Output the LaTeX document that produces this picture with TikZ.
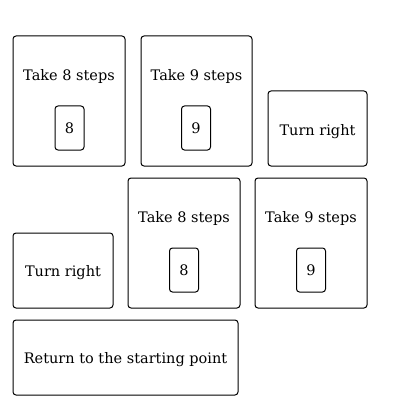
\documentclass[tikz,border=0pt]{standalone}
\usepackage{fontspec}
\setmainfont{DejaVu Serif}
\begin{document}
\begin{tikzpicture}[x=1pt,y=-1pt,
  card/.style={draw,rounded corners=3pt,line width=1pt,inner sep=0pt},
  numbox/.style={draw,rounded corners=3pt,line width=1pt,inner sep=0pt,minimum width=29pt,minimum height=44pt,font=\fontsize{14.5}{17}\selectfont},
  lbl/.style={inner sep=0pt,font=\fontsize{14.5}{17}\selectfont},
]
\useasboundingbox (0,0) rectangle (400,409);
% outer cards
\node[card,minimum width=112pt,minimum height=130pt] (b1) at (69,101) {};
\node[card,minimum width=111pt,minimum height=130pt] (b2) at (196.5,101) {};
\node[card,minimum width=99pt,minimum height=75pt] (b3) at (317.5,128.5) {};
\node[card,minimum width=100pt,minimum height=75pt] (b4) at (63,270.5) {};
\node[card,minimum width=112pt,minimum height=130pt] (b5) at (184,243) {};
\node[card,minimum width=112pt,minimum height=130pt] (b6) at (311,243) {};
\node[card,minimum width=225pt,minimum height=75pt] (b7) at (125.5,357.5) {};
% labels
\node[lbl] (t1) at (69,76.5) {Take 8 steps};
\node[lbl] (t2) at (196.5,76.5) {Take 9 steps};
\node[lbl] (t3) at (317.5,131.5) {Turn right};
\node[lbl] (t4) at (63,273) {Turn right};
\node[lbl] (t5) at (184,218.5) {Take 8 steps};
\node[lbl] (t6) at (311,218.5) {Take 9 steps};
\node[lbl] (t7) at (125.5,360) {Return to the starting point};
% number boxes
\node[numbox] (n1) at (69.5,128) {8};
\node[numbox] (n2) at (196,128) {9};
\node[numbox] (n5) at (184,270) {8};
\node[numbox] (n6) at (311,270) {9};
\end{tikzpicture}
\end{document}
